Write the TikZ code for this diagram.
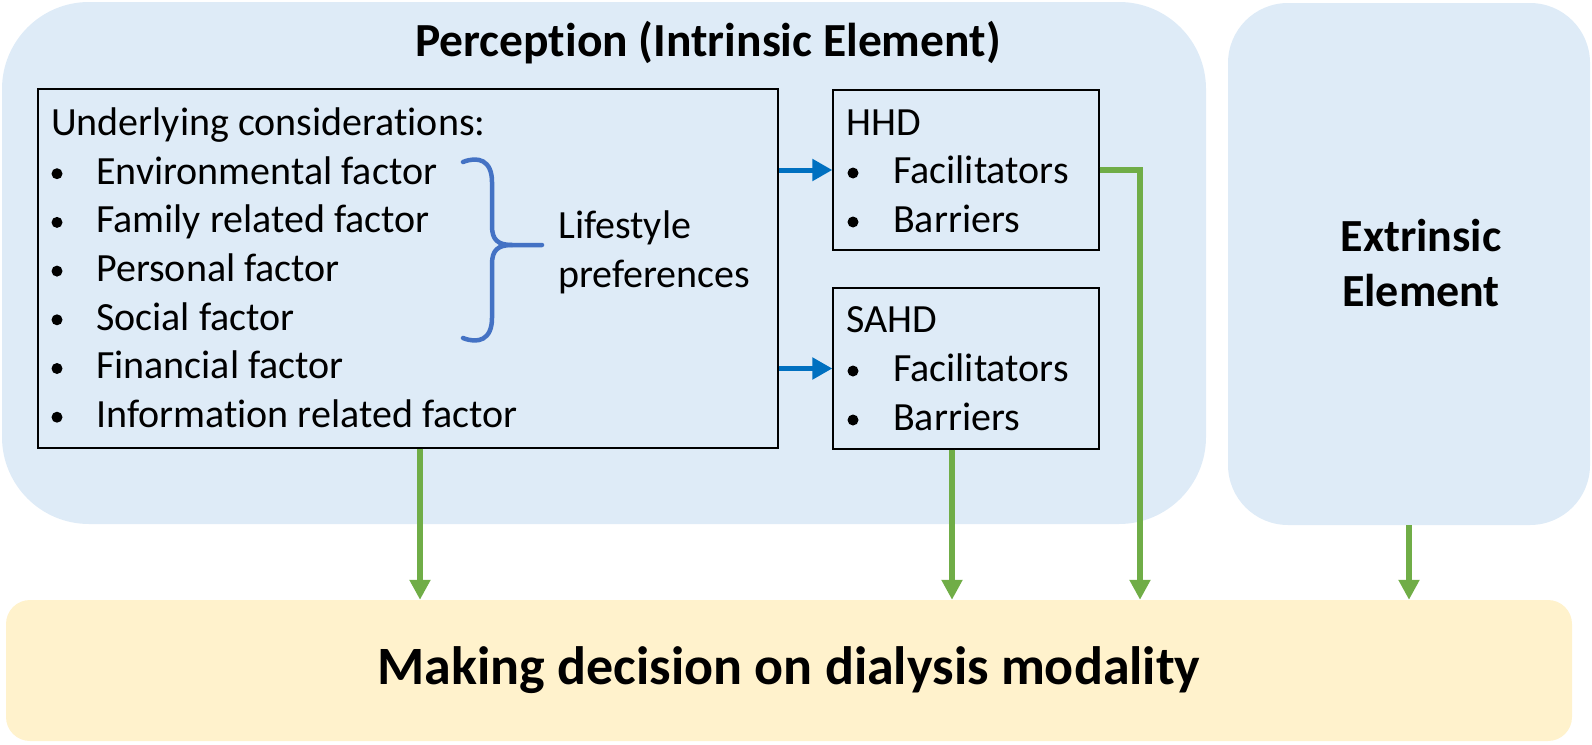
\documentclass[tikz,border=0pt]{standalone}
\usepackage{fontspec}
\setmainfont{Carlito}[Ligatures=NoCommon]
\usetikzlibrary{arrows.meta}
\definecolor{panel}{HTML}{DEEBF7}
\definecolor{decfill}{HTML}{FFF2CC}
\definecolor{arrblue}{HTML}{0070C0}
\definecolor{arrgreen}{HTML}{70AD47}
\definecolor{bracecol}{HTML}{4472C4}
\begin{document}
\begin{tikzpicture}[x=1pt,y=-1pt,
  panelbox/.style={fill=panel, draw=none, inner sep=0pt},
  innerbox/.style={draw=black, line width=1.3pt, inner sep=0pt},
  txt/.style={font=\fontsize{40}{48}\selectfont, inner sep=0pt, anchor=mid west},
  bul/.style={circle, fill=black, draw=none, inner sep=0pt, minimum size=11pt},
  bigbold/.style={font=\fontsize{46}{55}\selectfont\bfseries, inner sep=0pt},
  bluearrow/.style={draw=arrblue, line width=5pt, -{Triangle[length=20pt,width=21pt]}},
  greenarrow/.style={draw=arrgreen, line width=5.5pt, -{Triangle[length=20pt,width=20pt]}},
  bracepath/.style={draw=bracecol, line width=4.5pt, line cap=round, line join=round}
]
\useasboundingbox (0,0) rectangle (1592,744);

% panels
\node[panelbox, rounded corners=87pt, minimum width=1204pt, minimum height=522pt] (perc) at (604,263) {};
\node[bigbold, font=\fontsize{47.5}{57}\selectfont\bfseries] (ptitle) at (708,43) {Perception (Intrinsic Element)};
\node[panelbox, rounded corners=60pt, minimum width=362pt, minimum height=522pt] (extr) at (1409,264) {};
\node[bigbold, align=center] (etitle) at (1421,263) {Extrinsic\\Element};
\node[fill=decfill, draw=none, rounded corners=24pt, minimum width=1566pt, minimum height=141pt,
      font=\fontsize{54}{64}\selectfont\bfseries, inner sep=0pt] (dec) at (789,670.5) {Making decision on dialysis modality};

% inner boxes
\node[innerbox, minimum width=740pt, minimum height=359pt] (under) at (408,268.5) {};
\node[innerbox, minimum width=266pt, minimum height=160pt] (hhd) at (966,170) {};
\node[innerbox, minimum width=266pt, minimum height=161pt] (sahd) at (966,368.5) {};

% underlying considerations text
\node[txt] (u0) at (51,133) {Underlying considerations:};
\foreach \k/\t in {1/Environmental factor,2/Family related factor,3/Personal factor,4/Social factor,5/Financial factor,6/Information related factor}{
  \node[bul] (ub\k) at (57,{125+48.7*\k}) {};
  \node[txt] (ut\k) at (96,{133+48.7*\k}) {\t};
}
\node[txt] (life1) at (558,236) {Lifestyle};
\node[txt] (life2) at (558,285) {preferences};

% HHD / SAHD texts
\node[txt] (h0) at (846,133) {HHD};
\node[bul] (hb1) at (853,173) {};
\node[txt] (ht1) at (893,181) {Facilitators};
\node[bul] (hb2) at (853,222) {};
\node[txt] (ht2) at (893,230) {Barriers};
\node[txt] (s0) at (846,330) {SAHD};
\node[bul] (sb1) at (853,371) {};
\node[txt] (st1) at (893,379) {Facilitators};
\node[bul] (sb2) at (853,420) {};
\node[txt] (st2) at (893,428) {Barriers};

% brace
\draw[bracepath] (463,162) .. controls (478,156) and (492,160) .. (492,182)
  -- (492,226) .. controls (492,240) and (498,245) .. (512,245) -- (542,245);
\draw[bracepath] (512,245) .. controls (498,245) and (492,250) .. (492,264)
  -- (492,318) .. controls (492,340) and (478,344) .. (463,338);

% connectors
\draw[bluearrow] (under.east |- hhd.west) -- (hhd.west);
\draw[bluearrow] (under.east |- sahd.west) -- (sahd.west);
\draw[greenarrow] ([xshift=12pt]under.south) -- ([xshift=12pt]under.south |- dec.north);
\draw[greenarrow] ([xshift=-14pt]sahd.south) -- ([xshift=-14pt]sahd.south |- dec.north);
\draw[greenarrow] (hhd.east) -| ([xshift=351pt]dec.north);
\draw[greenarrow] (extr.south) -- (extr.south |- dec.north);
\end{tikzpicture}
\end{document}
